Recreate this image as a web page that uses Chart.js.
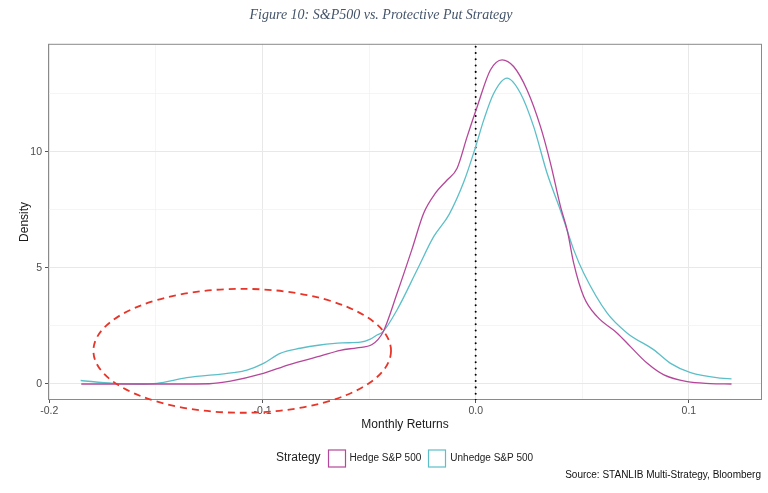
<!DOCTYPE html>
<html>
<head>
<meta charset="utf-8">
<script src="https://cdn.jsdelivr.net/npm/chart.js@4.4.0/dist/chart.umd.min.js"></script>
<style>
  html, body { margin: 0; padding: 0; background: #fff; }
</style>
</head>
<body>
<canvas id="densityChart" width="768" height="493"></canvas>
<script>
// Series names and colours
const seriesNames = ['Hedge S&P 500', 'Unhedge S&P 500'];

// Hedge S&P 500 density
const hedgeX = [-0.185, -0.16, -0.14, -0.125, -0.115, -0.101, -0.087, -0.073, -0.0635, -0.0557, -0.0486,
  -0.0435, -0.0369, -0.0299, -0.0244, -0.0189, -0.0134, -0.0087, -0.004, 0.0007, 0.0069, 0.0124,
  0.0178, 0.0241, 0.0304, 0.0351, 0.0398, 0.043, 0.046, 0.0507, 0.057, 0.0664, 0.0726, 0.0805,
  0.0883, 0.0992, 0.11, 0.12];
const hedgeY = [0, 0, 0, 0.01, 0.12, 0.42, 0.85, 1.2, 1.45, 1.56, 1.7,
  2.23, 3.9, 5.8, 7.36, 8.22, 8.79, 9.3, 10.66, 11.95, 13.53, 13.97,
  13.68, 12.67, 11.09, 9.51, 7.64, 6.6, 5.2, 3.76, 2.9, 2.19, 1.61, 0.89,
  0.39, 0.1, 0.02, 0];

// Unhedge S&P 500 density
const unhedgeX = [-0.1853, -0.17, -0.1574, -0.1496, -0.1355, -0.1136, -0.1073, -0.0995, -0.0917, -0.0823,
  -0.073, -0.0626, -0.054, -0.0494, -0.0463, -0.0435, -0.0369, -0.0275, -0.0197, -0.0125, -0.0056,
  0, 0.0038, 0.0085, 0.0147, 0.021, 0.0272, 0.0335, 0.0393, 0.0413, 0.046, 0.0507, 0.0617,
  0.0711, 0.0836, 0.0914, 0.1008, 0.1149, 0.12];
const unhedgeY = [0.15, 0.03, 0, 0.03, 0.27, 0.49, 0.6, 0.89, 1.32, 1.54,
  1.68, 1.77, 1.8, 1.93, 2.11, 2.25, 3.19, 4.91, 6.35, 7.3, 8.7,
  10.23, 11.38, 12.53, 13.18, 12.53, 11.09, 9.08, 7.6, 7.07, 5.78, 4.77, 3.05,
  2.19, 1.47, 0.89, 0.49, 0.25, 0.22];

// Axes
const xMin = -0.2006, xMax = 0.1343;
const yMin = -0.69, yMax = 14.66;
const xGridTicks = [-0.2, -0.15, -0.1, -0.05, 0, 0.05, 0.1];
const xTickLabels = {'-0.2': '-0.2', '-0.1': '-0.1', '0': '0.0', '0.1': '0.1'};
const yGridTicks = [0, 2.5, 5, 7.5, 10, 12.5];
const yTickLabels = {'0': '0', '5': '5', '10': '10'};

// Dotted reference line at zero return
const zeroLine = 0;

// Highlighted region (dashed ellipse, in data units)
const ellipseCenter = [-0.1095, 1.43];
const ellipseRadius = [0.0698, 2.67];

const colors = ['#b5479a', '#5cbfc8'];
const fontSans = '"Liberation Sans", Arial, sans-serif';

function isMajorX(v) { return xTickLabels[String(+v.toFixed(4))] !== undefined; }
function isMajorY(v) { return yTickLabels[String(+v.toFixed(4))] !== undefined; }

// Panel border, ellipse, legend and source line
const extrasPlugin = {
  id: 'extras',
  beforeDatasetsDraw(chart) {
    const { ctx, chartArea: a } = chart;
    ctx.save();
    ctx.strokeStyle = '#8a8a8a';
    ctx.lineWidth = 1;
    ctx.strokeRect(a.left + 0.5, a.top + 0.5, a.right - a.left - 1, a.bottom - a.top - 1);
    ctx.restore();
  },
  afterDatasetsDraw(chart) {
    const { ctx } = chart;
    const xs = chart.scales.x, ys = chart.scales.y;
    const cx = xs.getPixelForValue(ellipseCenter[0]);
    const cy = ys.getPixelForValue(ellipseCenter[1]);
    const rx = Math.abs(xs.getPixelForValue(ellipseCenter[0] + ellipseRadius[0]) - cx);
    const ry = Math.abs(ys.getPixelForValue(ellipseCenter[1] + ellipseRadius[1]) - cy);
    ctx.save();
    ctx.strokeStyle = '#e8352a';
    ctx.lineWidth = 1.8;
    ctx.setLineDash([7, 5]);
    ctx.beginPath();
    ctx.ellipse(cx, cy, rx, ry, 0, 0, Math.PI * 2);
    ctx.stroke();
    ctx.restore();
  },
  afterDraw(chart) {
    const { ctx, chartArea: a } = chart;
    ctx.save();
    const legendY = 458;
    ctx.textBaseline = 'middle';
    ctx.font = '12px ' + fontSans;
    const titleW = ctx.measureText('Strategy').width;
    ctx.font = '10px ' + fontSans;
    const w1 = ctx.measureText(seriesNames[0]).width;
    const w2 = ctx.measureText(seriesNames[1]).width;
    const box = 17;
    const total = titleW + 7 + box + 5 + w1 + 7 + box + 6 + w2;
    let x = (a.left + a.right) / 2 - total / 2;
    ctx.fillStyle = '#222';
    ctx.font = '12px ' + fontSans;
    ctx.textAlign = 'left';
    ctx.fillText('Strategy', x, legendY);
    x += titleW + 7;
    const widths = [w1, w2];
    for (let i = 0; i < 2; i++) {
      ctx.strokeStyle = colors[i];
      ctx.lineWidth = 1.2;
      ctx.strokeRect(Math.round(x) + 0.5, legendY - box / 2 + 0.5, box, box);
      x += box + 5;
      ctx.font = '10px ' + fontSans;
      ctx.fillStyle = '#222';
      ctx.fillText(seriesNames[i], x, legendY);
      x += widths[i] + (i === 0 ? 7 : 0);
    }
    ctx.font = '10px ' + fontSans;
    ctx.textAlign = 'right';
    ctx.fillStyle = '#111';
    ctx.fillText('Source: STANLIB Multi-Strategy, Bloomberg', 761, 475);
    ctx.restore();
  }
};

const ctx = document.getElementById('densityChart').getContext('2d');
new Chart(ctx, {
  type: 'line',
  data: {
    datasets: [
      {
        label: seriesNames[0],
        data: hedgeX.map((x, i) => ({ x: x, y: hedgeY[i] })),
        borderColor: colors[0],
        borderWidth: 1.3,
        pointRadius: 0,
        cubicInterpolationMode: 'monotone',
        fill: false
      },
      {
        label: seriesNames[1],
        data: unhedgeX.map((x, i) => ({ x: x, y: unhedgeY[i] })),
        borderColor: colors[1],
        borderWidth: 1.3,
        pointRadius: 0,
        cubicInterpolationMode: 'monotone',
        fill: false
      },
      {
        label: 'zero',
        data: [{ x: zeroLine, y: yMin }, { x: zeroLine, y: yMax }],
        borderColor: '#000',
        borderWidth: 2,
        borderDash: [0.01, 6.3],
        borderCapStyle: 'round',
        pointRadius: 0,
        fill: false
      }
    ]
  },
  options: {
    responsive: false,
    animation: false,
    devicePixelRatio: 1,
    layout: { padding: { top: 0, right: 6, bottom: 60, left: 0 } },
    plugins: {
      legend: { display: false },
      tooltip: { enabled: false },
      title: {
        display: true,
        text: 'Figure 10: S&P500 vs. Protective Put Strategy',
        color: '#44546a',
        font: { family: '"Liberation Serif", "DejaVu Serif", serif', style: 'italic', size: 14, weight: 'normal' },
        padding: { top: 7, bottom: 20 }
      }
    },
    scales: {
      x: {
        type: 'linear',
        min: xMin,
        max: xMax,
        afterBuildTicks: (scale) => { scale.ticks = xGridTicks.map(v => ({ value: v })); },
        afterFit: (scale) => { scale.height = 33; },
        ticks: {
          autoSkip: false,
          maxRotation: 0,
          padding: 2,
          color: '#4d4d4d',
          font: { family: fontSans, size: 10.5 },
          callback: (v) => isMajorX(v) ? xTickLabels[String(+v.toFixed(4))] : ''
        },
        grid: {
          color: (c) => isMajorX(c.tick.value) ? '#e8e8e8' : '#f2f2f2',
          lineWidth: (c) => isMajorX(c.tick.value) ? 1 : 0.8,
          tickColor: (c) => isMajorX(c.tick.value) ? '#555' : 'rgba(0,0,0,0)',
          tickLength: 3
        },
        border: { display: false },
        title: {
          display: true,
          text: 'Monthly Returns',
          color: '#1a1a1a',
          font: { family: fontSans, size: 12 },
          padding: { top: 0, bottom: 1 }
        }
      },
      y: {
        min: yMin,
        max: yMax,
        afterBuildTicks: (scale) => { scale.ticks = yGridTicks.map(v => ({ value: v })); },
        afterFit: (scale) => { scale.width = 48; },
        ticks: {
          autoSkip: false,
          padding: 3,
          color: '#4d4d4d',
          font: { family: fontSans, size: 10.5 },
          callback: (v) => isMajorY(v) ? yTickLabels[String(+v.toFixed(4))] : ''
        },
        grid: {
          color: (c) => isMajorY(c.tick.value) ? '#e8e8e8' : '#f2f2f2',
          lineWidth: (c) => isMajorY(c.tick.value) ? 1 : 0.8,
          tickColor: (c) => isMajorY(c.tick.value) ? '#555' : 'rgba(0,0,0,0)',
          tickLength: 3
        },
        border: { display: false },
        title: {
          display: true,
          text: 'Density',
          color: '#1a1a1a',
          font: { family: fontSans, size: 12 },
          padding: { top: 17, bottom: 0 }
        }
      }
    }
  },
  plugins: [extrasPlugin]
});
</script>
</body>
</html>
